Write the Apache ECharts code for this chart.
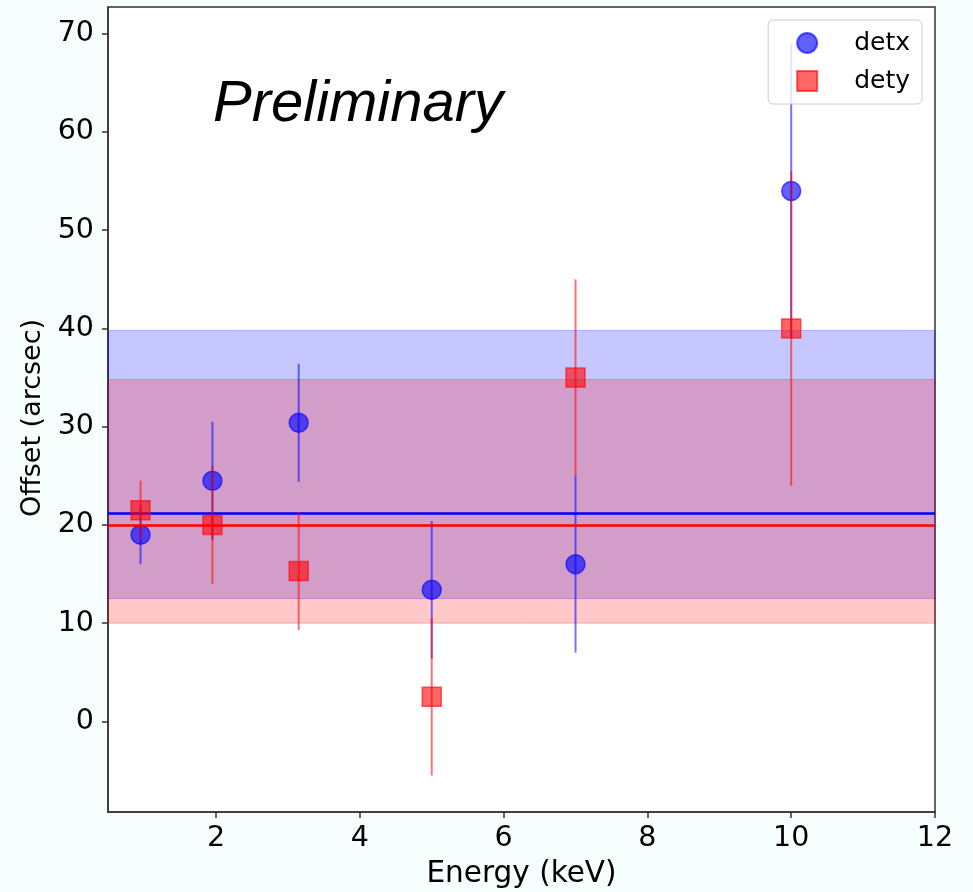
<!DOCTYPE html>
<html>
<head>
<meta charset="utf-8">
<script src="https://cdn.jsdelivr.net/npm/echarts@6/dist/echarts.min.js"></script>
<style>
html,body{margin:0;padding:0;background:#f6fefe;}
#chart{width:973px;height:892px;}
</style>
</head>
<body>
<div id="chart"></div>
<script>
const energies = [0.95, 1.95, 3.15, 5, 7, 10];
const detx = [19, 24.5, 30.4, 13.4, 16, 54];
const detxErr = [3, 6, 6, 7, 9, 15];
const dety = [21.5, 20, 15.3, 2.5, 35, 40];
const detyErr = [3, 6, 6, 8, 10, 16];
const detxMean = 21.2;
const detyMean = 20.0;
const detxBand = [12.5, 39.8];
const detyBand = [10.0, 34.8];
const xTicks = [2, 4, 6, 8, 10, 12];
const yTicks = [0, 10, 20, 30, 40, 50, 60, 70];

const BLUE = '#0000ff', RED = '#ff0000';
const FONT = 'DejaVu Sans';

function errData(vals, errs) {
  return energies.map((e, i) => [e, vals[i] - errs[i], vals[i] + errs[i]]);
}
function errRender(color) {
  return function (params, api) {
    const x = api.value(0);
    const p1 = api.coord([x, api.value(1)]);
    const p2 = api.coord([x, api.value(2)]);
    return {
      type: 'line',
      shape: { x1: p1[0], y1: p1[1], x2: p2[0], y2: p2[1] },
      style: { stroke: color, lineWidth: 2 }
    };
  };
}

const chart = echarts.init(document.getElementById('chart'));
chart.setOption({
  backgroundColor: '#f6fefe',
  animation: false,
  grid: {
    left: 108, top: 7, right: 38, bottom: 80,
    outerBoundsMode: 'none', containLabel: false,
    show: true, backgroundColor: '#ffffff', borderColor: '#333', borderWidth: 1.5
  },
  legend: {
    data: ['detx', 'dety'],
    orient: 'vertical',
    right: 51, top: 20,
    padding: [10, 12, 10, 28],
    itemWidth: 20, itemHeight: 20, itemGap: 12,
    backgroundColor: 'rgba(255,255,255,0.8)',
    borderColor: '#cccccc', borderWidth: 1, borderRadius: 5,
    textStyle: { fontFamily: FONT, fontSize: 25, color: '#000', lineHeight: 26, padding: [0, 0, 0, 32] }
  },
  xAxis: {
    type: 'value', min: 0.4975, max: 12,
    name: 'Energy (keV)', nameLocation: 'middle', nameGap: 47,
    nameTextStyle: { fontFamily: FONT, fontSize: 29.5, color: '#000' },
    axisLine: { show: true, onZero: false, lineStyle: { color: '#333', width: 1.5 } },
    axisTick: { show: true, length: 6, customValues: xTicks, lineStyle: { color: '#333', width: 1.5 } },
    axisLabel: { customValues: xTicks, fontFamily: FONT, fontSize: 28.5, color: '#000', margin: 12 },
    splitLine: { show: false }
  },
  yAxis: {
    type: 'value', min: -9.225, max: 72.725,
    name: 'Offset (arcsec)', nameLocation: 'middle', nameGap: 58,
    nameTextStyle: { fontFamily: FONT, fontSize: 27, color: '#000', padding: [0, 17, 0, 0] },
    axisLine: { show: true, onZero: false, lineStyle: { color: '#333', width: 1.5 } },
    axisTick: { show: true, length: 6, customValues: yTicks, lineStyle: { color: '#333', width: 1.5 } },
    axisLabel: { customValues: yTicks, fontFamily: FONT, fontSize: 28.5, color: '#000', margin: 14 },
    splitLine: { show: false }
  },
  graphic: [{
    type: 'text', left: 213, top: 76, z: 100,
    style: { text: 'Preliminary', fontFamily: 'Liberation Sans', fontStyle: 'italic', fontSize: 58, fill: '#000' }
  }],
  series: [
    {
      name: 'detx', type: 'scatter', z: 4, symbol: 'circle', symbolSize: 19,
      data: energies.map((e, i) => [e, detx[i]]),
      itemStyle: { color: 'rgba(0,0,255,0.62)', borderColor: 'rgba(0,0,255,0.62)', borderWidth: 1.5, opacity: 1 }
    },
    {
      name: 'dety', type: 'scatter', z: 6, symbol: 'rect', symbolSize: 19,
      data: energies.map((e, i) => [e, dety[i]]),
      itemStyle: { color: 'rgba(255,0,0,0.6)', borderColor: 'rgba(255,0,0,0.6)', borderWidth: 1.5, opacity: 1 }
    },
    {
      name: 'detx band', type: 'line', data: [], z: 1,
      markArea: {
        silent: true,
        itemStyle: { color: 'rgba(0,0,255,0.22)', borderColor: 'rgba(0,0,255,0.25)', borderWidth: 1 },
        data: [[{ yAxis: detxBand[0] }, { yAxis: detxBand[1] }]]
      },
      markLine: {
        silent: true, symbol: 'none', label: { show: false },
        lineStyle: { color: BLUE, width: 2.5, type: 'solid' },
        data: [{ yAxis: detxMean }]
      }
    },
    {
      name: 'dety band', type: 'line', data: [], z: 2,
      markArea: {
        silent: true,
        itemStyle: { color: 'rgba(255,0,0,0.21)', borderColor: 'rgba(255,0,0,0.25)', borderWidth: 1 },
        data: [[{ yAxis: detyBand[0] }, { yAxis: detyBand[1] }]]
      },
      markLine: {
        silent: true, symbol: 'none', label: { show: false },
        lineStyle: { color: RED, width: 2.5, type: 'solid' },
        data: [{ yAxis: detyMean }]
      }
    },
    {
      name: 'detx err', type: 'custom', z: 3,
      renderItem: errRender('rgba(0,0,255,0.55)'),
      encode: { x: 0, y: [1, 2] },
      data: errData(detx, detxErr)
    },
    {
      name: 'dety err', type: 'custom', z: 5,
      renderItem: errRender('rgba(255,0,0,0.55)'),
      encode: { x: 0, y: [1, 2] },
      data: errData(dety, detyErr)
    }
  ]
});
</script>
</body>
</html>
